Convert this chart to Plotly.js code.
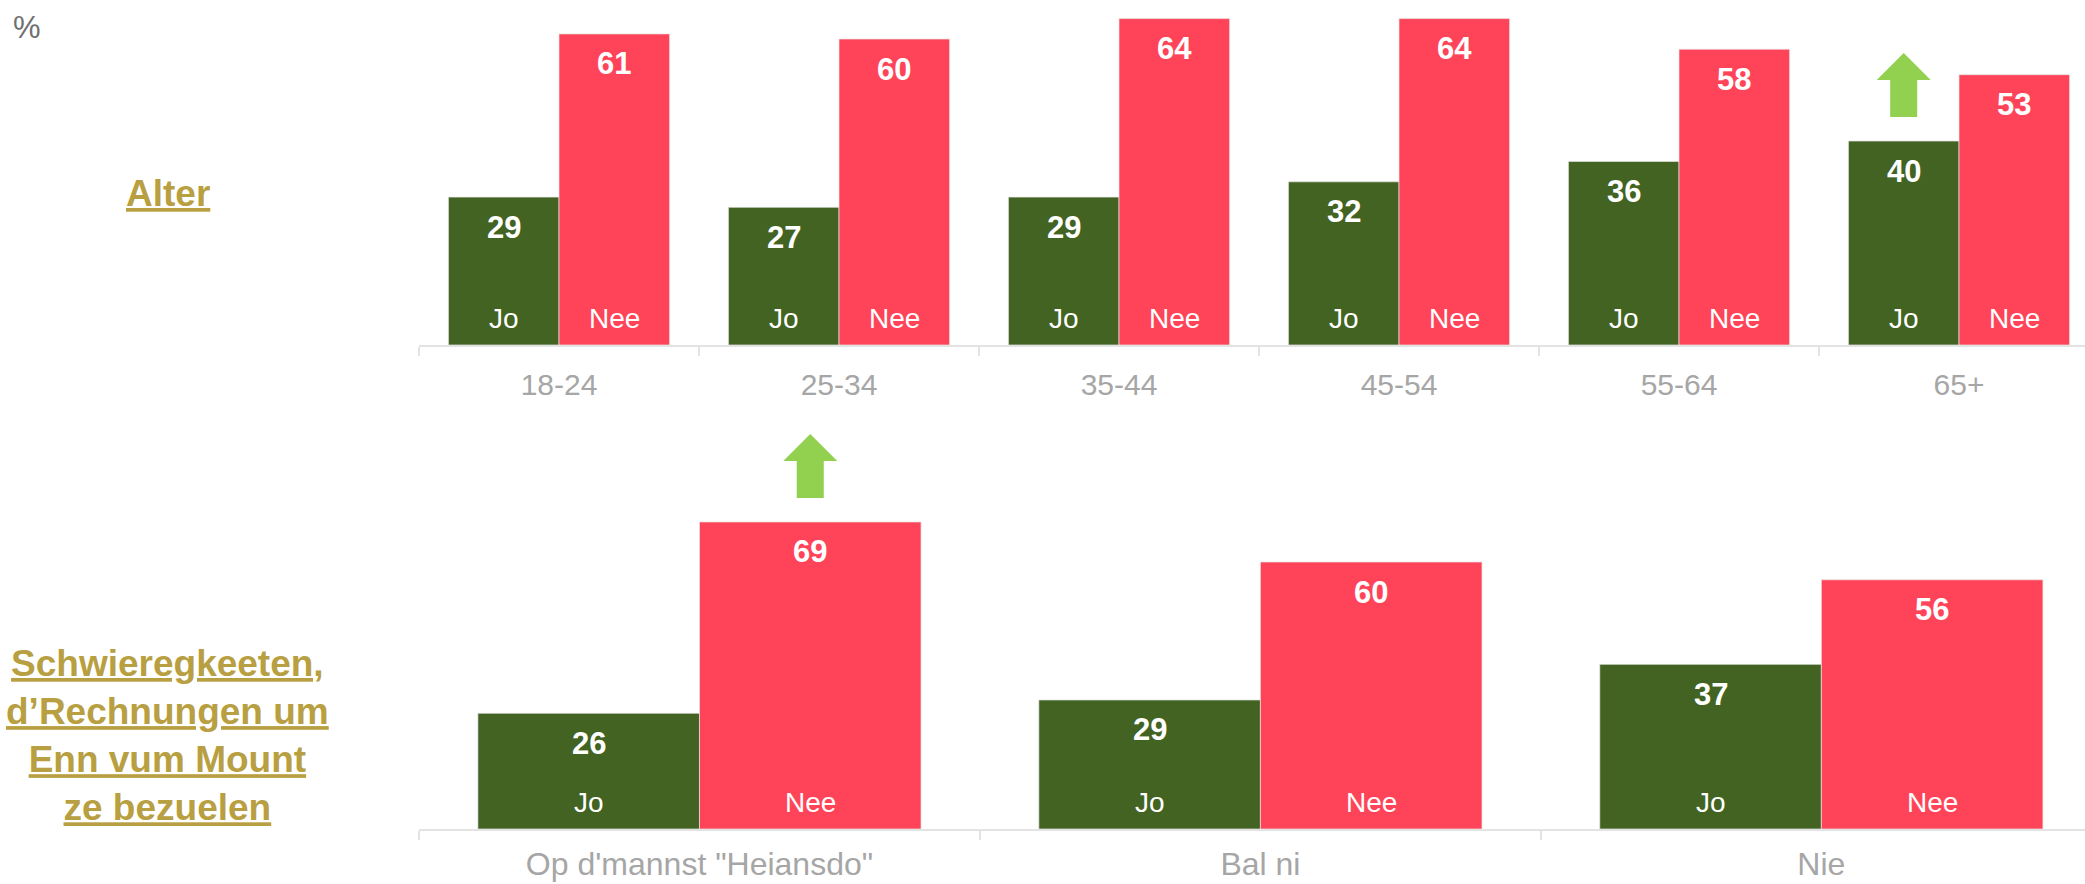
<!DOCTYPE html>
<html>
<head>
<meta charset="utf-8">
<script src="https://cdn.plot.ly/plotly-3.0.1.min.js"></script>
<style>html,body{margin:0;padding:0;background:#fff;} #chart{width:2085px;height:884px;}</style>
</head>
<body>
<div id="chart"></div>
<script>
// ---- data ----
const ageCats = ['18-24', '25-34', '35-44', '45-54', '55-64', '65+'];
const ageJo = [29, 27, 29, 32, 36, 40];
const ageNee = [61, 60, 64, 64, 58, 53];
const ageArrows = [{series: 'Jo', index: 5}];

const billCats = ['Op d\'mannst "Heiansdo"', 'Bal ni', 'Nie'];
const billJo = [26, 29, 37];
const billNee = [69, 60, 56];
const billArrows = [{series: 'Nee', index: 0}];

const seriesNames = ['Jo', 'Nee'];
const groupTitles = ['Alter', 'Schwieregkeeten,<br>d’Rechnungen um<br>Enn vum Mount<br>ze bezuelen'];

// ---- style ----
const FONT = 'Liberation Sans, Arial, sans-serif';
const GREEN = '#426321';
const RED = '#FF4459';
const ARROW = '#92D050';
const GOLD = '#B89F42';
const BARGAP = 0.21;
const half = (1 - BARGAP) / 4;

function barTrace(cats, vals, name, color, xa, ya) {
  return {
    type: 'bar', x: cats, y: vals, name: name,
    xaxis: xa, yaxis: ya,
    marker: {color: color, line: {width: 1, color: 'rgba(230,230,230,0.7)'}},
    hoverinfo: 'none', showlegend: false
  };
}

const data = [
  barTrace(ageCats, ageJo, 'Jo', GREEN, 'x', 'y'),
  barTrace(ageCats, ageNee, 'Nee', RED, 'x', 'y'),
  barTrace(billCats, billJo, 'Jo', GREEN, 'x2', 'y2'),
  barTrace(billCats, billNee, 'Nee', RED, 'x2', 'y2')
];

const annotations = [];
const shapes = [];
function addLabels(jo, nee, xref, yref, arrows) {
  [jo, nee].forEach((vals, s) => {
    const off = s === 0 ? -half : half;
    vals.forEach((v, i) => {
      annotations.push({
        xref: xref, yref: yref, x: i + off, y: v, yshift: -30,
        yanchor: 'middle', xanchor: 'center', showarrow: false,
        text: '<b>' + v + '</b>',
        font: {family: FONT, size: 31, color: '#ffffff'}
      });
      annotations.push({
        xref: xref, yref: yref, x: i + off, y: 0, yshift: 27,
        yanchor: 'middle', xanchor: 'center', showarrow: false,
        text: seriesNames[s],
        font: {family: FONT, size: 28, color: '#ffffff'}
      });
    });
  });
  arrows.forEach(a => {
    const s = seriesNames.indexOf(a.series);
    const vals = s === 0 ? jo : nee;
    const off = s === 0 ? -half : half;
    shapes.push({
      type: 'path', xref: xref, yref: yref,
      xsizemode: 'pixel', ysizemode: 'pixel',
      xanchor: a.index + off, yanchor: vals[a.index],
      path: 'M -13.5 24 L 13.5 24 L 13.5 61 L 27 61 L 0 88 L -27 61 L -13.5 61 Z',
      fillcolor: ARROW, line: {width: 0}
    });
  });
}
addLabels(ageJo, ageNee, 'x', 'y', ageArrows);
addLabels(billJo, billNee, 'x2', 'y2', billArrows);

annotations.push({
  xref: 'paper', yref: 'paper', x: 11 / 2085, y: 1 - 8 / 884,
  xanchor: 'left', yanchor: 'top', showarrow: false, text: '%',
  font: {family: FONT, size: 31, color: '#707070'}
});
annotations.push({
  xref: 'paper', yref: 'paper', x: 168 / 2085, y: 1 - 193 / 884,
  xanchor: 'center', yanchor: 'middle', showarrow: false,
  text: '<b><u>' + groupTitles[0] + '</u></b>',
  font: {family: FONT, size: 37, color: GOLD}
});
annotations.push({
  xref: 'paper', yref: 'paper', x: 168 / 2085, y: 1 - 735 / 884,
  xanchor: 'center', yanchor: 'middle', align: 'center', showarrow: false,
  text: groupTitles[1].split('<br>').map(t => '<b><u>' + t + '</u></b>').join('<br>'),
  font: {family: FONT, size: 37, color: GOLD}
});

const xBase = {
  type: 'category', showline: true, linecolor: '#E3E3E3', linewidth: 2,
  ticks: 'outside', tickson: 'boundaries', ticklen: 9, tickcolor: '#E3E3E3', tickwidth: 2,
  showgrid: false, zeroline: false, fixedrange: true,
  domain: [419 / 2085, 1]
};

const layout = {
  width: 2085, height: 884,
  margin: {l: 0, r: 0, t: 0, b: 0},
  paper_bgcolor: '#ffffff', plot_bgcolor: 'rgba(0,0,0,0)',
  barmode: 'group', bargap: BARGAP, bargroupgap: 0,
  showlegend: false,
  xaxis: Object.assign({}, xBase, {anchor: 'y', range: [-0.5, 5.45], ticklabelstandoff: 12,
    tickfont: {family: FONT, size: 30, color: '#A6A6A6'}}),
  yaxis: {domain: [539 / 884, 1], range: [0, 345 / 5.1], visible: false, fixedrange: true},
  xaxis2: Object.assign({}, xBase, {anchor: 'y2', range: [-0.5, 2.47], ticklabelstandoff: 6,
    tickfont: {family: FONT, size: 32, color: '#A6A6A6'}}),
  yaxis2: {domain: [55 / 884, 484 / 884], range: [0, 429 / 4.45], visible: false, fixedrange: true},
  annotations: annotations,
  shapes: shapes
};

Plotly.newPlot('chart', data, layout, {displayModeBar: false, staticPlot: true});
</script>
</body>
</html>
